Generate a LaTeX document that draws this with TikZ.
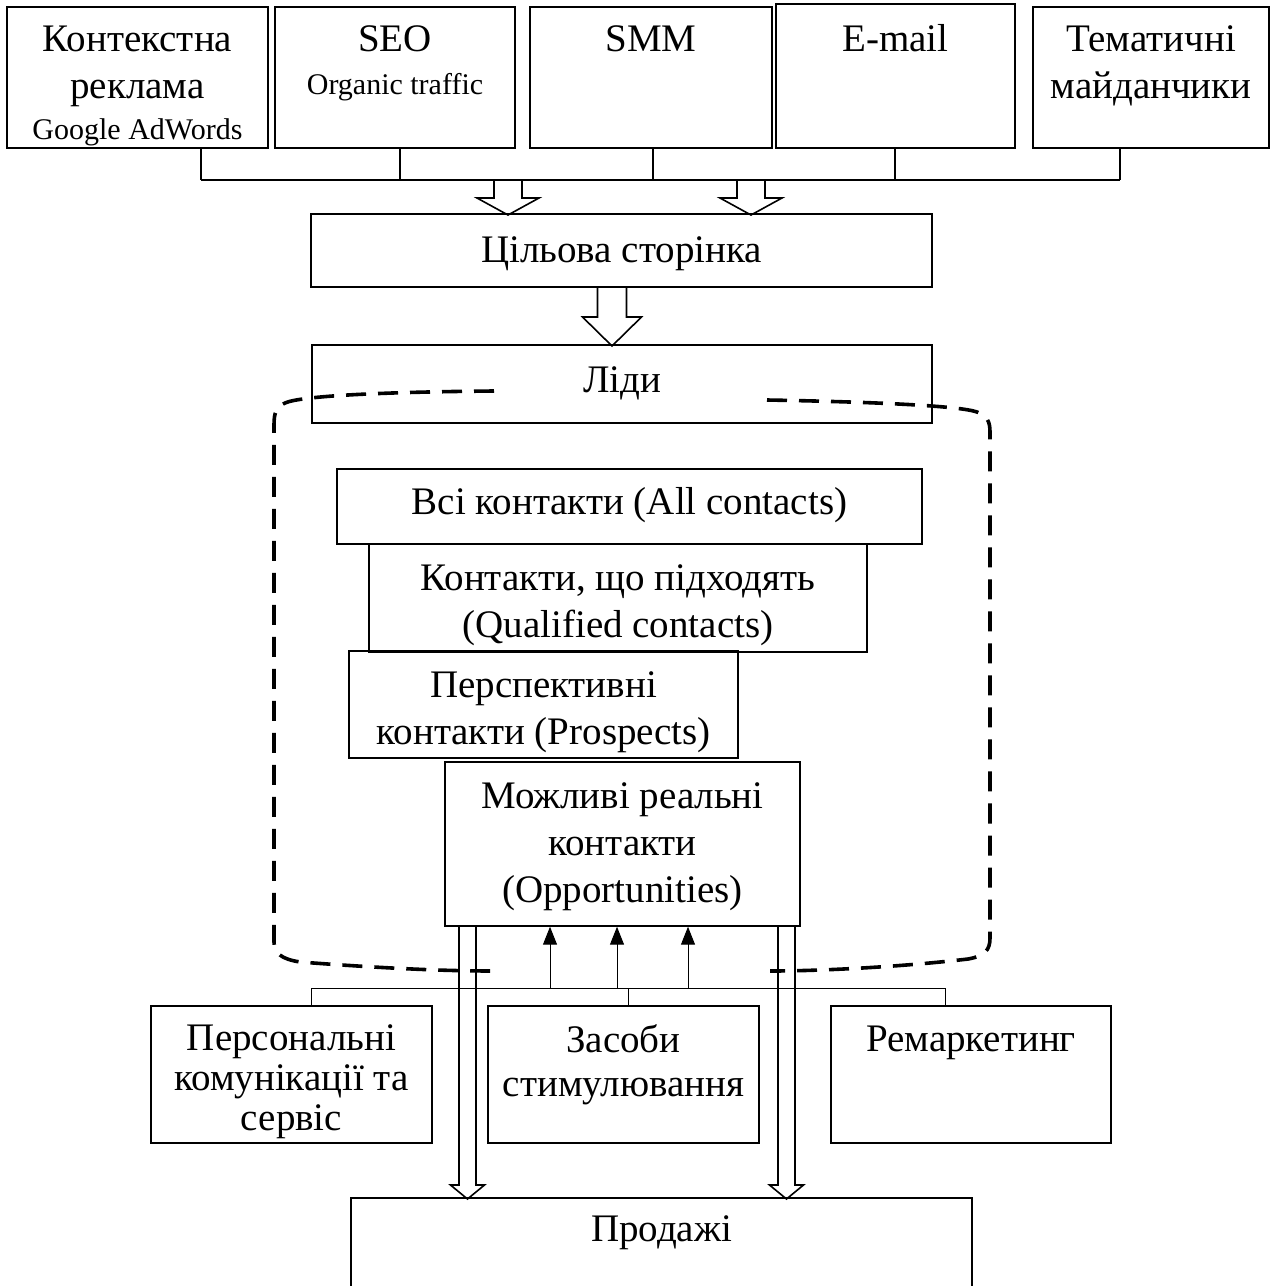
\documentclass[tikz,border=0pt]{standalone}
\usepackage{fontspec}
\setmainfont{Liberation Serif}
\usepackage{tikz}
\usetikzlibrary{calc, arrows.meta, positioning, fit}

\newcommand{\bigfont}{\fontsize{19.5pt}{23.5pt}\selectfont}
\newcommand{\smallfont}{\fontsize{15pt}{17pt}\selectfont}
% hollow block arrow: start, shaft, head, half shaft, half head
\newcommand{\hollowarrow}[5]{%
  \draw[blockarr] (#1) ++(-#4,0) -- ++(0,#2) -- ++(#4-#5,0) -- ++(#5,#3)
    -- ++(#5,-#3) -- ++(#4-#5,0) -- ++(0,-#2) -- cycle;}

\begin{document}
\begin{tikzpicture}[
  x=0.5pt, y=-0.5pt,
  box/.style={draw, line width=0.7pt, inner sep=0pt},
  txt/.style={inner sep=0pt, align=center, font=\bigfont},
  lowtxt/.style={txt, font=\fontsize{19.5pt}{20pt}\selectfont},
  bus/.style={line width=1.1pt},
  thinbus/.style={line width=0.5pt},
  blockarr/.style={line width=0.8pt, line join=miter},
  cyl/.style={line width=1.8pt, dash pattern=on 10pt off 6pt},
  uparr/.style={line width=0.5pt, -{Triangle[length=9pt, width=7pt]}}
]
\useasboundingbox (0,0) rectangle (1274,1286);
\clip (0,0) rectangle (1274,1286);

% channels
\node[box, fit={(7,7) (268,148)}] (kontext) {};
\node[box, fit={(275,7) (515,148)}] (seo) {};
\node[box, fit={(530,7) (772,148)}] (smm) {};
\node[box, fit={(776,4) (1015,148)}] (email) {};
\node[box, fit={(1033,7) (1269,148)}] (tema) {};
\node[txt, below=9.5pt of kontext.north] (kontext-t)
  {Контекстна\\реклама\\[-3pt]{\smallfont Google AdWords}};
\node[txt, below=9.5pt of seo.north] (seo-t) {SEO\\[-2pt]{\smallfont Organic traffic}};
\node[txt, below=9.5pt of smm.north] (smm-t) {SMM};
\node[txt, below=10.5pt of email.north] (email-t) {E-mail};
\node[txt, below=9.5pt of tema.north] (tema-t) {Тематичні\\майданчики};

\foreach \src/\x in {kontext/201, seo/400, smm/653, email/895, tema/1120}{
  \coordinate (\src-d) at (\x,180);
  \draw[bus] (\src-d |- \src.south) -- (\src-d);
}
\draw[bus] (kontext-d) -- (tema-d);

\node[box, fit={(311,214) (932,287)}] (tsil) {};
\node[txt, below=11.5pt of tsil.north] (tsil-t) {Цільова сторінка};
\coordinate (ba1) at (508,180);
\coordinate (ba2) at (751,180);
\hollowarrow{ba1}{18}{17}{14}{31}
\hollowarrow{ba2}{18}{17}{14}{31}

\node[box, fit={(312,345) (932,423)}] (lidy) {};
\node[txt, below=11pt of lidy.north] (lidy-t) {Ліди};
\coordinate (ba3) at (612,287);
\hollowarrow{ba3}{30}{29}{14.5}{29.5}

% funnel outline
\draw[cyl] (494,391) .. controls (380,392) and (300,396) .. (285,403)
  .. controls (276,407) and (274,413) .. (274,425) -- (274,942)
  .. controls (274,953) and (281,959) .. (300,962)
  .. controls (380,968) and (440,971) .. (494,971);
\draw[cyl] (767,400) .. controls (880,402) and (960,406) .. (977,412)
  .. controls (987,416) and (990,421) .. (990,432) -- (990,938)
  .. controls (990,950) and (985,956) .. (968,959)
  .. controls (900,967) and (820,971) .. (770,971);

\node[box, fit={(337,469) (922,544)}] (vsi) {};
\node[txt, below=9.5pt of vsi.north] (vsi-t) {Всі контакти (All contacts)};
\node[box, fit={(369,544) (867,652)}] (qual) {};
\node[txt, below=10.5pt of qual.north] (qual-t) {Контакти, що підходять\\(Qualified contacts)};
\node[box, fit={(349,651) (738,758)}] (pros) {};
\node[txt, below=10.5pt of pros.north] (pros-t) {Перспективні\\контакти (Prospects)};
\node[box, fit={(445,762) (800,926)}] (opp) {};
\node[txt, below=10.5pt of opp.north] (opp-t) {Можливі реальні\\контакти\\(Opportunities)};

% support tools
\node[box, fit={(151,1006) (432,1143)}] (pers) {};
\node[lowtxt, below=9.5pt of pers.north] (pers-t) {Персональні\\комунікації та\\сервіс};
\node[box, fit={(488,1006) (759,1143)}] (zas) {};
\node[lowtxt, below=9.5pt of zas.north] (zas-t) {Засоби\\[2pt]стимулювання};
\node[box, fit={(831,1006) (1111,1143)}] (rem) {};
\node[lowtxt, below=10pt of rem.north] (rem-t) {Ремаркетинг};

\coordinate (bb1) at (311,988);
\coordinate (bb2) at (628,988);
\coordinate (bb3) at (945,988);
\draw[thinbus] (bb1 |- pers.north) -- (bb1) -- (bb3) -- (bb3 |- rem.north);
\draw[thinbus] (bb2) -- (bb2 |- zas.north);
\foreach \x [count=\i] in {550,617,688}{
  \coordinate (up\i) at (\x,988);
  \draw[uparr] (up\i) -- (up\i |- opp.south);
}

\node[box, fit={(351,1198) (972,1300)}] (prod) {};
\node[txt, below=9pt of prod.north] (prod-t) {Продажі};
\coordinate (sh1) at (467.5,926);
\coordinate (sh2) at (786.5,926);
\hollowarrow{sh1}{259}{14}{8.5}{17}
\hollowarrow{sh2}{259}{14}{8.5}{17}
\end{tikzpicture}
\end{document}
